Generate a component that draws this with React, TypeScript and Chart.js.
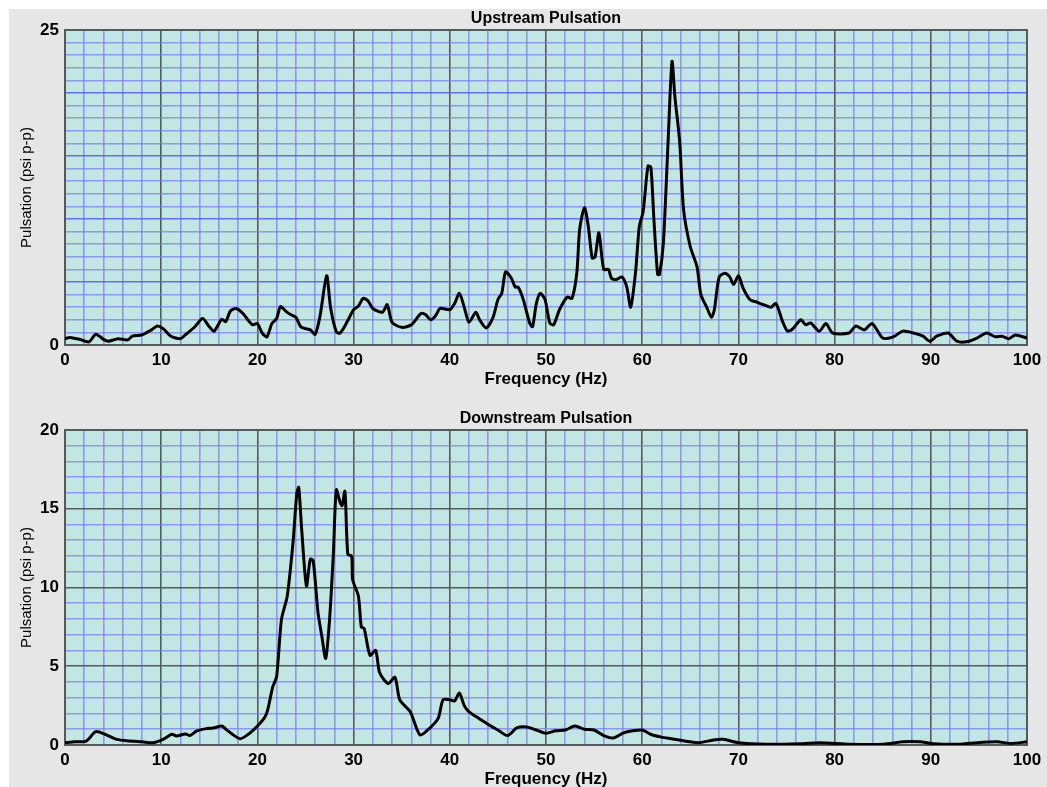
import React, { useEffect, useRef } from 'react';
import { Chart, registerables } from 'chart.js';

Chart.register(...registerables);

// ---------- data ----------
const upFreq = [
  0, 0.5, 1.5, 2.5, 3.2, 4, 4.5, 5.5, 6.5, 7, 8, 9, 9.6, 10.2, 11, 12, 12.5, 13.5, 14.3, 15, 15.5,
  16.3, 16.7, 17.2, 17.8, 18.5, 19, 19.5, 20, 20.5, 21, 21.5, 22, 22.4, 23, 23.5, 24, 24.5, 25, 25.5,
  26, 26.5, 27.2, 27.6, 28.2, 28.6, 29.3, 30, 30.5, 31, 31.5, 32, 33, 33.5, 34, 35, 36, 37, 37.5, 38,
  38.5, 39, 40, 40.5, 41, 41.5, 42, 42.7, 43.1, 43.8, 44.5, 45, 45.4, 45.8, 46.4, 46.8, 47.1, 47.6,
  48.3, 48.6, 49, 49.4, 49.9, 50.4, 50.8, 51.4, 52.2, 52.7, 53.2, 53.5, 54, 54.4, 54.8, 55.1, 55.5,
  56, 56.5, 56.8, 57.3, 57.9, 58.4, 58.8, 59.3, 59.7, 60.1, 60.6, 60.9, 61.2, 61.6, 61.8, 62.2, 62.7,
  63.1, 63.4, 63.9, 64.3, 65, 65.7, 66.1, 66.7, 67.2, 67.5, 68, 68.6, 69.1, 69.5, 70, 70.5, 71.2,
  71.9, 72.6, 73.4, 73.9, 74.6, 75.1, 75.6, 76.5, 77, 77.5, 78.4, 79.1, 79.8, 81.5, 82.2, 83.1, 83.9,
  85, 86.1, 87.1, 88.2, 89.2, 89.9, 90.6, 91.8, 92.7, 93.7, 94.8, 95.8, 96.7, 97.4, 98.1, 98.8, 100,
];
const upPulsation = [
  0.5, 0.6, 0.45, 0.25, 0.85, 0.45, 0.3, 0.5, 0.4, 0.7, 0.8, 1.2, 1.5, 1.3, 0.7, 0.5, 0.8, 1.45, 2.1, 1.45, 1.1,
  2.05, 1.85, 2.7, 2.9, 2.5, 2.0, 1.6, 1.7, 0.95, 0.65, 1.7, 2.1, 3.05, 2.65, 2.4, 2.2, 1.45, 1.3, 1.2,
  0.85, 2.25, 5.5, 3.0, 1.05, 0.95, 1.8, 2.8, 3.1, 3.7, 3.5, 2.9, 2.6, 3.2, 1.8, 1.4, 1.6, 2.5, 2.4, 2.0,
  2.3, 2.9, 2.8, 3.3, 4.1, 3.0, 1.8, 2.6, 2.0, 1.35, 2.2, 3.6, 4.1, 5.8, 5.3, 4.6, 4.6, 3.7,
  1.75, 1.45, 3.3, 4.1, 3.6, 1.75, 1.6, 2.8, 3.8, 3.7, 5.7, 9.2, 10.9, 9.4, 6.9, 7.0, 8.9,
  6.0, 6.0, 5.3, 5.2, 5.4, 4.6, 3.0, 5.7, 9.4, 10.6, 14.2, 14.1, 10.2, 5.6, 5.6, 8.1, 16.3,
  22.5, 19.7, 16.1, 10.75, 7.8, 6.2, 4.0, 3.0, 2.2, 2.8, 5.4, 5.7, 5.4, 4.8, 5.5, 4.5, 3.6,
  3.4, 3.2, 3.0, 3.3, 1.85, 1.1, 1.25, 2.0, 1.6, 1.75, 1.1, 1.7, 0.95, 0.95, 1.5, 1.2, 1.7,
  0.55, 0.65, 1.1, 0.95, 0.7, 0.3, 0.7, 0.95, 0.3, 0.25, 0.55, 0.95, 0.65, 0.7, 0.5, 0.8, 0.55,
];

const downFreq = [
  0, 1, 2.2, 3.2, 4.3, 5.4, 6.4, 8, 9.2, 10.2, 11.1, 11.6, 12.5, 13, 13.7, 14.7, 15.4, 16.3, 16.8, 18.2,
  19.2, 20.1, 20.8, 21.1, 21.6, 22, 22.5, 23.1, 23.7, 24.1, 24.3, 24.6, 25.1, 25.5, 25.8, 26.3, 26.7,
  27.1, 27.5, 27.9, 28.2, 28.6, 28.8, 29.1, 29.4, 29.8, 29.9, 30.5, 30.8, 31.1, 31.7, 32.3, 32.7, 33.6,
  34.3, 34.8, 35.9, 36.9, 37.9, 38.8, 39.3, 40, 40.5, 41, 41.5, 42, 43, 44, 45, 46, 47, 48, 49, 50, 51,
  52, 53, 54, 55, 56, 57, 58, 59, 60, 61, 62, 63, 64, 65, 66, 67.4, 68.4, 70, 72.9, 76.4, 78.5, 81.6,
  85.1, 87.1, 88.9, 90.3, 93, 94.8, 96.9, 98.3, 100,
];
const downPulsation = [
  0.15, 0.2, 0.25, 0.85, 0.64, 0.36, 0.27, 0.2, 0.15, 0.36, 0.68, 0.57, 0.7, 0.6, 0.89, 1.04, 1.08, 1.2, 0.96, 0.4,
  0.75, 1.27, 1.8, 2.3, 3.7, 4.35, 7.96, 9.45, 12.85, 16.0, 16.35, 13.7, 10.1, 11.8, 11.7, 8.4, 6.9,
  5.5, 7.96, 12.2, 16.2, 15.4, 15.2, 16.1, 12.1, 12.0, 10.5, 9.45, 7.5, 7.4, 5.7, 6.0, 4.6, 3.9,
  4.3, 2.87, 2.1, 0.64, 1.06, 1.7, 2.87, 2.87, 2.8, 3.3, 2.5, 2.1, 1.7, 1.3, 0.95, 0.6, 1.1, 1.15, 0.95, 0.75, 0.9,
  0.95, 1.2, 1.0, 0.95, 0.6, 0.45, 0.75, 0.9, 0.95, 0.65, 0.5, 0.4, 0.3, 0.2, 0.15, 0.32, 0.36, 0.15, 0.05, 0.08, 0.15, 0.05,
  0.05, 0.2, 0.2, 0.08, 0.05, 0.15, 0.2, 0.1, 0.2,
];

const xTickLabels = [0, 10, 20, 30, 40, 50, 60, 70, 80, 90, 100];
const upYTickLabels = [0, 25];
const downYTickLabels = [0, 5, 10, 15, 20];

// ---------- styles ----------
const PAGE_BG = '#e6e6e6';
const PLOT_BG = '#c1e6e4';
const MINOR_GRID = 'rgba(125,125,238,0.75)';
const MID_GRID = 'rgba(95,95,235,0.9)';
const MAJOR_GRID = '#525c5c';
const FONT = '"Liberation Sans", Arial, sans-serif';

const areaPlugin = {
  id: 'plotArea',
  beforeDraw(chart: any) {
    const { ctx, chartArea } = chart;
    ctx.save();
    ctx.fillStyle = PLOT_BG;
    ctx.fillRect(chartArea.left, chartArea.top, chartArea.width, chartArea.height);
    ctx.restore();
  },
  beforeDatasetsDraw(chart: any) {
    const { ctx, chartArea } = chart;
    ctx.save();
    ctx.strokeStyle = MAJOR_GRID;
    ctx.lineWidth = 2;
    ctx.strokeRect(chartArea.left, chartArea.top, chartArea.width, chartArea.height);
    ctx.restore();
  },
  afterDraw(chart: any, _args: any, opts: any) {
    const { ctx, chartArea } = chart;
    ctx.save();
    ctx.fillStyle = '#000';
    ctx.font = `bold 16px ${FONT}`;
    ctx.textAlign = 'center';
    ctx.textBaseline = 'middle';
    ctx.fillText(opts.text, (chartArea.left + chartArea.right) / 2, 18.5);
    ctx.restore();
  },
};

function makeChart(
  canvas: HTMLCanvasElement,
  title: string,
  freq: number[],
  values: number[],
  yMax: number,
  yLabels: number[],
  darkFives: boolean
) {
  const data = freq.map((f, i) => ({ x: f, y: values[i] }));
  return new Chart(canvas, {
    type: 'line',
    data: {
      datasets: [
        {
          data,
          borderColor: '#000000',
          borderWidth: 3,
          pointRadius: 0,
          tension: 0.25,
          fill: false,
        },
      ],
    },
    plugins: [areaPlugin],
    options: {
      responsive: false,
      animation: false,
      devicePixelRatio: 1,
      layout: { padding: { left: 18, right: 20, top: 30, bottom: 10 } },
      plugins: {
        legend: { display: false },
        tooltip: { enabled: false },
        title: { display: false },
        plotArea: { text: title },
      },
      scales: {
        x: {
          type: 'linear',
          min: 0,
          max: 100,
          border: { display: false },
          grid: {
            drawTicks: false,
            lineWidth: 1.6,
            color: (c: any) => (c.tick && c.tick.value % 10 === 0 ? MAJOR_GRID : MINOR_GRID),
          },
          ticks: {
            stepSize: 2,
            autoSkip: false,
            maxTicksLimit: 1000,
            maxRotation: 0,
            padding: 5,
            color: '#000',
            font: { family: FONT, size: 17, weight: 'bold' },
            callback: (v: any) => (xTickLabels.includes(Number(v)) ? String(v) : ''),
          },
          title: {
            display: true,
            text: 'Frequency (Hz)',
            color: '#000',
            font: { family: FONT, size: 17, weight: 'bold' },
            padding: { top: 0, bottom: 0 },
          },
          afterFit(scale: any) {
            scale.height = 45;
          },
        },
        y: {
          type: 'linear',
          min: 0,
          max: yMax,
          border: { display: false },
          grid: {
            drawTicks: false,
            lineWidth: 1.6,
            color: (c: any) =>
              c.tick && c.tick.value % 5 === 0 ? (darkFives ? MAJOR_GRID : MID_GRID) : MINOR_GRID,
          },
          ticks: {
            stepSize: 1,
            autoSkip: false,
            maxTicksLimit: 1000,
            padding: 6,
            color: '#000',
            font: { family: FONT, size: 17, weight: 'bold' },
            callback: (v: any) => (yLabels.includes(Number(v)) ? String(v) : ''),
          },
          title: {
            display: true,
            text: 'Pulsation (psi p-p)',
            color: '#000',
            font: { family: FONT, size: 15 },
            padding: { top: 0, bottom: 0 },
          },
          afterFit(scale: any) {
            scale.width = 47;
          },
        },
      },
    } as any,
  });
}

export default function App() {
  const topRef = useRef<HTMLCanvasElement>(null);
  const bottomRef = useRef<HTMLCanvasElement>(null);

  useEffect(() => {
    document.body.style.margin = '0';
    document.body.style.overflow = 'hidden';
    const c1 = makeChart(topRef.current!, 'Upstream Pulsation', upFreq, upPulsation, 25, upYTickLabels, false);
    const c2 = makeChart(
      bottomRef.current!,
      'Downstream Pulsation',
      downFreq,
      downPulsation,
      20,
      downYTickLabels,
      true
    );
    return () => {
      c1.destroy();
      c2.destroy();
    };
  }, []);

  return (
    <div style={{ position: 'relative', width: 1047, height: 787, overflow: 'hidden', background: '#fff' }}>
      <div style={{ position: 'absolute', left: 9, top: 9, width: 1038, height: 778, background: PAGE_BG }} />
      <canvas ref={topRef} width={1047} height={400} style={{ position: 'absolute', left: 0, top: 0 }} />
      <canvas ref={bottomRef} width={1047} height={400} style={{ position: 'absolute', left: 0, top: 400 }} />
    </div>
  );
}
